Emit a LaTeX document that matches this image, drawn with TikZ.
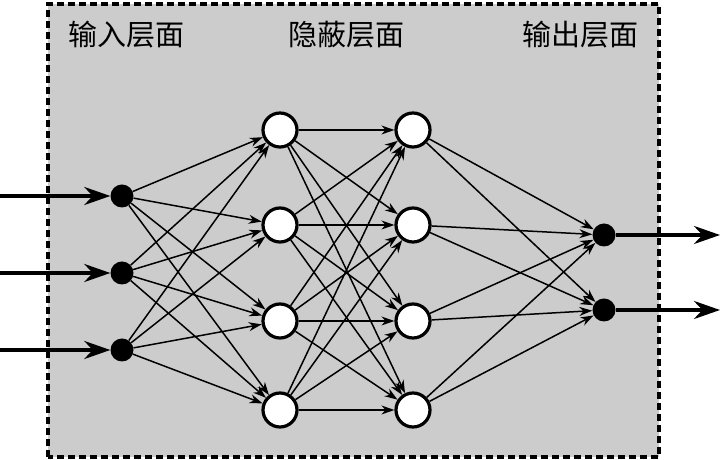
\documentclass[tikz,border=0pt]{standalone}
\usepackage{fontspec}
\newfontfamily\cjk{Noto Sans CJK SC}
\usetikzlibrary{arrows.meta}
\begin{document}
\begin{tikzpicture}[x=1pt,y=1pt,
  inp/.style={circle,fill=black,inner sep=0pt,minimum size=23pt},
  hid/.style={circle,draw=black,line width=3.2pt,fill=white,inner sep=0pt,minimum size=34pt},
  edge/.style={line width=1.5pt,-{Stealth[length=13pt,width=9pt]}},
  io/.style={line width=3.6pt,-{Stealth[length=26pt,width=18pt]}},
  lbl/.style={font=\cjk\fontsize{29}{29}\selectfont}]
\useasboundingbox (0,0) rectangle (721,460);
\draw[fill={rgb,255:red,204;green,204;blue,204},line width=3.6pt,dash pattern=on 7pt off 4pt] (48,3) rectangle (659,456);
\node[lbl] (l1) at (126,425) {输入层面};
\node[lbl] (l2) at (346,425) {隐蔽层面};
\node[lbl] (l3) at (580,425) {输出层面};
\foreach \i/\y in {1/264,2/187,3/110}{
  \node[inp] (i\i) at (122,\y) {};
  \coordinate (s\i) at (0,\y);
}
\foreach \i/\y in {1/330,2/235,3/139,4/50}{
  \node[hid] (a\i) at (280,\y) {};
  \node[hid] (b\i) at (413,\y) {};
}
\foreach \i/\y in {1/225,2/150}{
  \node[inp] (o\i) at (604,\y) {};
  \coordinate (e\i) at (720,\y);
}
\foreach \i in {1,2,3}{\draw[io] (s\i) -- (i\i);}
\foreach \i in {1,2}{\draw[io] (o\i) -- (e\i);}
\foreach \i in {1,2,3}{\foreach \j in {1,2,3,4}{\draw[edge] (i\i) -- (a\j);}}
\foreach \i in {1,2,3,4}{\foreach \j in {1,2,3,4}{\draw[edge] (a\i) -- (b\j);}}
\foreach \i in {1,2,3,4}{\foreach \j in {1,2}{\draw[edge] (b\i) -- (o\j);}}
\end{tikzpicture}
\end{document}
